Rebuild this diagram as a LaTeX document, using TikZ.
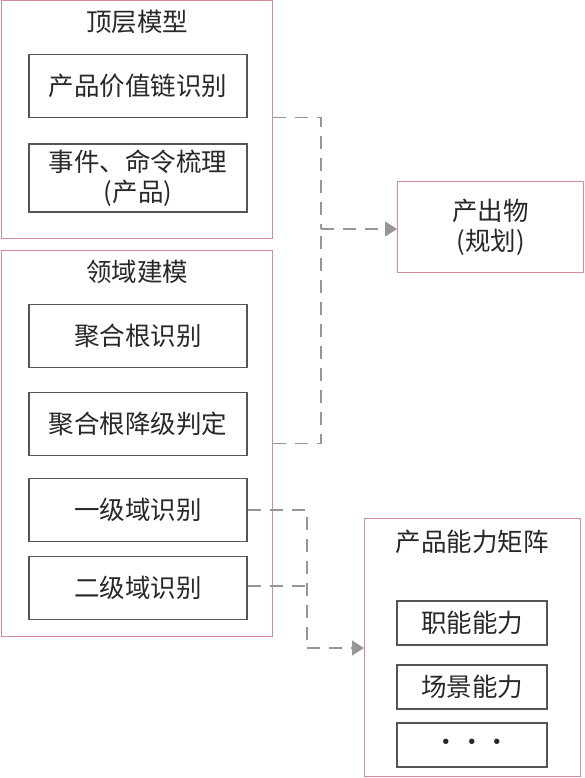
\documentclass[tikz,border=0pt]{standalone}
\usepackage{fontspec}
\setmainfont{Noto Sans CJK SC}
\usepackage{xcolor}
\usetikzlibrary{arrows.meta,positioning}

\definecolor{framered}{RGB}{212,140,150}
\definecolor{innergray}{RGB}{85,85,85}
\definecolor{linkgray}{RGB}{150,150,150}
\definecolor{txtgray}{RGB}{40,40,40}

\begin{document}
\begin{tikzpicture}[
  x=1pt, y=-1pt,
  font=\fontsize{25.5}{30}\selectfont,
  text=txtgray,
  group/.style={
    draw=framered,
    line width=1.2pt,
    anchor=north west,
    inner sep=0pt
  },
  item/.style={
    draw=innergray,
    line width=1.1pt,
    minimum width=218pt,
    minimum height=63pt,
    align=center,
    inner sep=0pt
  },
  subitem/.style={
    draw=innergray,
    line width=1.1pt,
    minimum width=150pt,
    minimum height=44pt,
    align=center,
    inner sep=0pt
  },
  link/.style={
    draw=linkgray,
    line width=1.2pt,
    dash pattern=on 13pt off 9pt
  },
  flow/.style={
    link,
    -{Triangle[length=12pt,width=15pt,fill=linkgray]}
  }
]
\useasboundingbox (0,0) rectangle (584,778);
\fill[white] (0,0) rectangle (584,778);

%-----------------------------
% Top model group
%-----------------------------
\node[group, minimum width=271pt, minimum height=238pt] (top) at (1,0) {};
\node (toptitle) at (137,22) {顶层模型};
\node[item] (chain) at (138,86) {产品价值链识别};
\node[item, minimum height=68pt] (event) at (138,178) {事件、命令梳理\\(产品)};

%-----------------------------
% Domain modelling group
%-----------------------------
\node[group, minimum width=271pt, minimum height=386pt] (dom) at (1,250) {};
\node (domtitle) at (137,272) {领域建模};
\node[item] (aggr)  at (138,336) {聚合根识别};
\node[item] (degr)  at (138,424) {聚合根降级判定};
\node[item] (lvone) at (138,510) {一级域识别};
\node[item] (lvtwo) at (138,588) {二级域识别};

%-----------------------------
% Outputs
%-----------------------------
\node[group, minimum width=186pt, minimum height=91pt, align=center] (plan) at (397,181) {};
\node[align=center] (plantext) at (plan.center) {产出物\\(规划)};

\node[group, minimum width=216pt, minimum height=258pt] (cap) at (364,518) {};
\node (captitle) at (472,542) {产品能力矩阵};
\node[subitem] (func)  at (472,623) {职能能力};
\node[subitem] (scene) at (472,687) {场景能力};
\node[subitem] (more)  at (472,745) {•••};

%-----------------------------
% Dashed links
%-----------------------------
\coordinate (busA) at (321,229);
\coordinate (busB) at (307,648);

\draw[link] ([yshift=2pt]top.east) -| (busA);
\draw[link] (dom.east) -| (busA);
\draw[flow] (busA) -- (plan.west |- busA);

\draw[link] (lvone.east) -| (busB);
\draw[link] ([yshift=2pt]lvtwo.east) -- ([yshift=2pt]lvtwo.east -| busB);
\draw[flow] (busB) -- (cap.west |- busB);

\end{tikzpicture}
\end{document}
